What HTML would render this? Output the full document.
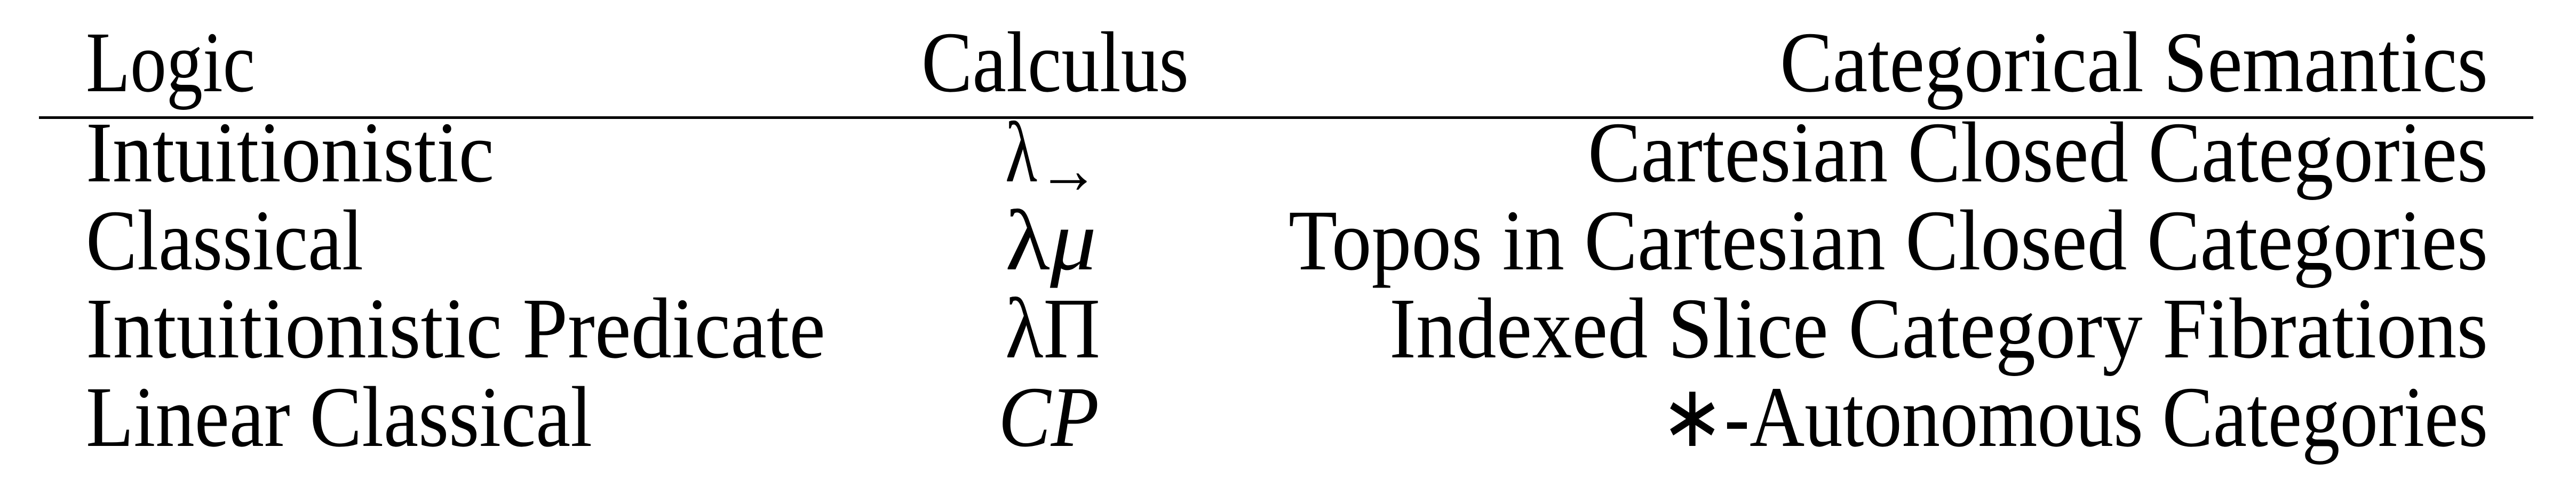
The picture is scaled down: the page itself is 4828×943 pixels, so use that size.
<!DOCTYPE html>
<html><head><meta charset="utf-8"><style>
html,body{margin:0;padding:0;background:#fff;}
svg{display:block;}
text{font-family:"Liberation Serif",serif;fill:#000;}
</style></head><body>
<svg width="4828" height="943" viewBox="0 0 4828 943">
<g font-size="162">
<text x="161" y="171" textLength="317" lengthAdjust="spacingAndGlyphs">Logic</text>
<text x="1727" y="171" textLength="501" lengthAdjust="spacingAndGlyphs">Calculus</text>
<text x="3336" y="171" textLength="1327" lengthAdjust="spacingAndGlyphs">Categorical Semantics</text>
</g>
<rect x="73" y="218" width="4675" height="5" fill="#000"/>
<g font-size="162">
<text x="161" y="340" textLength="765" lengthAdjust="spacingAndGlyphs">Intuitionistic</text>
<text x="1884" y="340" textLength="60" lengthAdjust="spacingAndGlyphs">λ</text>
<text x="1945" y="362" font-size="130" textLength="115" lengthAdjust="spacingAndGlyphs">→</text>
<text x="2976" y="340" textLength="1687" lengthAdjust="spacingAndGlyphs">Cartesian Closed Categories</text>

<text x="161" y="505" textLength="520" lengthAdjust="spacingAndGlyphs">Classical</text>
<text x="1884" y="505" textLength="171" lengthAdjust="spacingAndGlyphs">λ<tspan font-style="italic">μ</tspan></text>
<text x="2415" y="505" textLength="2248" lengthAdjust="spacingAndGlyphs">Topos in Cartesian Closed Categories</text>

<text x="161" y="670" textLength="1386" lengthAdjust="spacingAndGlyphs">Intuitionistic Predicate</text>
<text x="1884" y="670" textLength="178" lengthAdjust="spacingAndGlyphs">λΠ</text>
<text x="2604" y="670" textLength="2059" lengthAdjust="spacingAndGlyphs">Indexed Slice Category Fibrations</text>

<text x="161" y="836" textLength="949" lengthAdjust="spacingAndGlyphs">Linear Classical</text>
<text x="1871" y="836" textLength="189" lengthAdjust="spacingAndGlyphs" font-style="italic">CP</text>
<text x="3112" y="836" textLength="1551" lengthAdjust="spacingAndGlyphs">∗-Autonomous Categories</text>
</g>
</svg>
</body></html>
